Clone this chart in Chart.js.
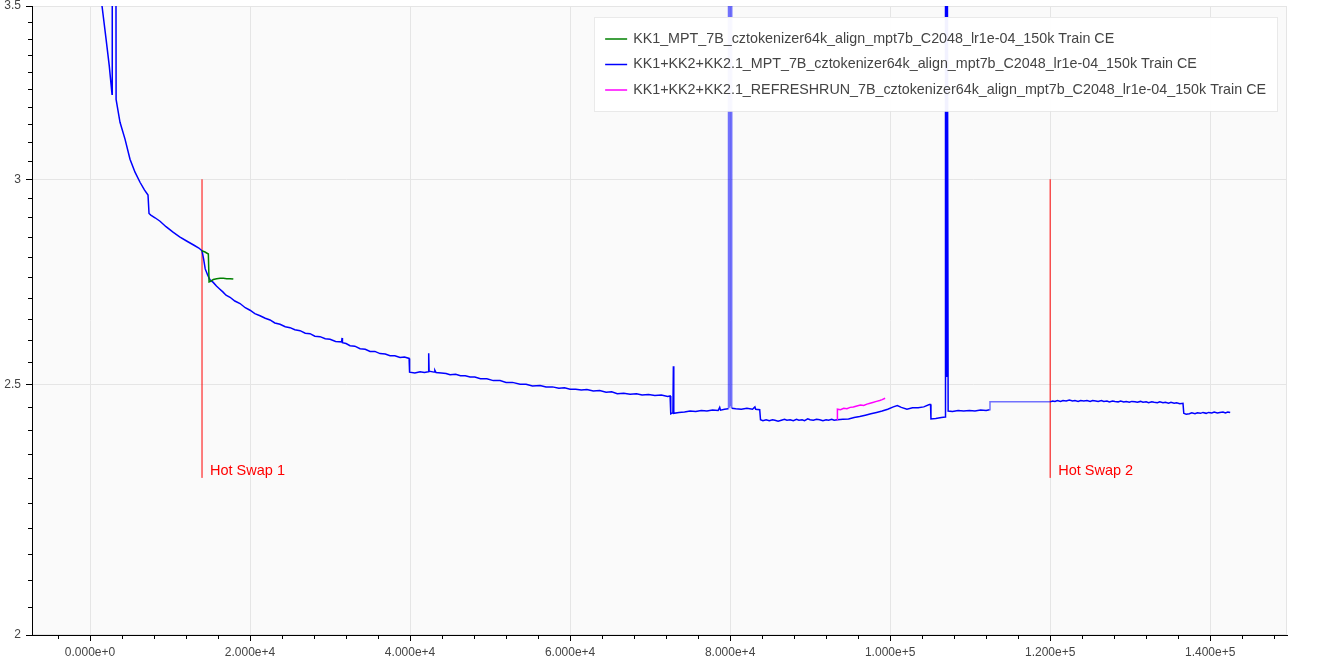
<!DOCTYPE html>
<html lang="en">
<head>
<meta charset="utf-8">
<title>Train CE – hot swap runs</title>
<script src="https://cdn.jsdelivr.net/npm/chart.js@4.4.1/dist/chart.umd.min.js"></script>
<style>
  html, body { margin: 0; padding: 0; background: #fff; }
  .chart-wrap { position: relative; width: 1320px; height: 660px; }
</style>
</head>
<body>
<div class="chart-wrap"><canvas id="lossChart"></canvas></div>
<script>
// ── Data (step, train CE) ─────────────────────────────────
const kk1Label     = "KK1_MPT_7B_cztokenizer64k_align_mpt7b_C2048_lr1e-04_150k Train CE";
const mptLabel     = "KK1+KK2+KK2.1_MPT_7B_cztokenizer64k_align_mpt7b_C2048_lr1e-04_150k Train CE";
const refreshLabel = "KK1+KK2+KK2.1_REFRESHRUN_7B_cztokenizer64k_align_mpt7b_C2048_lr1e-04_150k Train CE";

const kk1Train = [
  [13960, 2.815], [14375, 2.812], [14790, 2.807], [14880, 2.738], [15000, 2.739],
  [15410, 2.744], [15830, 2.746], [16250, 2.747], [16670, 2.747], [17090, 2.746],
  [17500, 2.746], [17910, 2.745]
];

const mptTrain = [
  [1000, 3.62], [1500, 3.50], [2000, 3.40], [2400, 3.32], [2750, 3.236],
  [2780, 4.2], [3220, 4.2], [3260, 3.221],
  [3750, 3.156], [4375, 3.109], [5000, 3.054], [5625, 3.019], [6250, 2.992], [6800, 2.972], [7250, 2.958],
  [7375, 2.910], [7600, 2.906], [8125, 2.899], [8750, 2.890], [9500, 2.876], [10375, 2.862],
  [11200, 2.850], [12125, 2.839], [13000, 2.829], [13600, 2.822], [14000, 2.815],
  [14200, 2.794], [14400, 2.770], [14700, 2.755], [15000, 2.743], [15400, 2.737], [15800, 2.728],
  [16200, 2.721], [16600, 2.714], [17000, 2.706], [17500, 2.701],
  [18100, 2.692], [18750, 2.686], [19400, 2.676], [20000, 2.670], [20600, 2.662], [21250, 2.657],
  [21900, 2.651], [22500, 2.647], [23100, 2.640], [23750, 2.637], [24400, 2.631], [25000, 2.629],
  [25600, 2.624], [26250, 2.622], [26900, 2.616], [27500, 2.615], [28100, 2.609], [28750, 2.608],
  [29400, 2.603], [30000, 2.602], [30700, 2.597], [31450, 2.596], [31500, 2.605], [31550, 2.594],
  [32000, 2.592], [32500, 2.587], [33100, 2.586], [33750, 2.580], [34400, 2.579], [35000, 2.574],
  [35600, 2.574], [36250, 2.569], [36900, 2.568], [37500, 2.564], [38100, 2.564], [38750, 2.560],
  [39300, 2.561], [39880, 2.558],
  [39940, 2.527], [40600, 2.525], [41250, 2.528], [41800, 2.526], [42280, 2.528], [42330, 2.570],
  [42380, 2.529], [43000, 2.527], [43100, 2.531], [43250, 2.526], [43900, 2.525], [44500, 2.524],
  [45000, 2.521], [45700, 2.522], [46300, 2.519], [46900, 2.519], [47500, 2.516], [48100, 2.516],
  [48800, 2.512], [49600, 2.512], [50400, 2.508], [51250, 2.508], [52000, 2.504], [52800, 2.504],
  [53750, 2.500], [54500, 2.500], [55300, 2.496], [56250, 2.497], [57000, 2.494], [57800, 2.494],
  [58600, 2.491], [59300, 2.492], [60000, 2.489], [60700, 2.489], [61400, 2.487], [62100, 2.488],
  [62900, 2.485], [63700, 2.486], [64500, 2.482], [65200, 2.483], [65900, 2.479], [66700, 2.480],
  [67500, 2.478], [68300, 2.479], [69000, 2.476], [69800, 2.477], [70600, 2.475], [71400, 2.476],
  [72200, 2.473], [72500, 2.474],
  [72580, 2.435], [72850, 2.437], [72910, 2.540], [72960, 2.436], [73600, 2.438], [74300, 2.439],
  [75000, 2.441], [75700, 2.440], [76400, 2.442], [77100, 2.441], [77800, 2.443], [78500, 2.442],
  [78700, 2.449], [78800, 2.443], [79300, 2.445], [79750, 2.446],
  [79800, 4.5], [79880, 2.450], [79960, 4.5], [80040, 2.452], [80120, 4.5], [80200, 2.447],
  [80700, 2.446], [81400, 2.445], [82100, 2.447], [82800, 2.445], [83100, 2.450], [83200, 2.445],
  [83700, 2.444],
  [83800, 2.422], [84100, 2.420], [84500, 2.422], [84900, 2.420], [85300, 2.422], [85600, 2.421],
  [86000, 2.419], [86400, 2.421], [86800, 2.423], [87100, 2.421], [87500, 2.422], [87900, 2.420],
  [88300, 2.423], [88600, 2.421], [89000, 2.422], [89300, 2.420], [89700, 2.424], [90000, 2.422],
  [90400, 2.421], [90800, 2.423], [91200, 2.422], [91600, 2.420], [92000, 2.422], [92300, 2.421],
  [92700, 2.423], [93000, 2.421], [93400, 2.422],
  [94100, 2.423], [94800, 2.424], [95500, 2.427], [96200, 2.429],
  [96900, 2.432], [97600, 2.435], [98300, 2.438], [99000, 2.441], [99700, 2.445], [100400, 2.450],
  [100900, 2.453], [101400, 2.449], [102100, 2.445], [102800, 2.448], [103500, 2.448], [104200, 2.450],
  [104900, 2.455], [105050, 2.455],
  [105100, 2.424], [105700, 2.425], [106400, 2.427], [106900, 2.428],
  [106920, 4.5], [107060, 2.518], [107100, 4.5], [107250, 2.441],
  [107800, 2.440], [108500, 2.442], [109200, 2.441], [109900, 2.442], [110600, 2.441], [111300, 2.443],
  [112000, 2.442], [112420, 2.444],
  [112480, 2.461], [120000, 2.461],
  [120300, 2.463], [120600, 2.462], [120900, 2.464], [121300, 2.462], [121600, 2.464], [122000, 2.463],
  [122400, 2.465], [122800, 2.463], [123100, 2.464], [123500, 2.462], [123800, 2.464], [124200, 2.463],
  [124600, 2.464], [125000, 2.462], [125300, 2.464], [125700, 2.463], [126000, 2.462], [126400, 2.464],
  [126700, 2.462], [127100, 2.463], [127400, 2.461], [127800, 2.463], [128100, 2.462], [128500, 2.461],
  [128800, 2.463], [129200, 2.461], [129500, 2.462], [129900, 2.460], [130200, 2.462], [130600, 2.461],
  [130900, 2.460], [131300, 2.462], [131600, 2.460], [132000, 2.461], [132300, 2.459], [132700, 2.461],
  [133000, 2.460], [133400, 2.459], [133700, 2.461], [134100, 2.459], [134400, 2.460], [134800, 2.458],
  [135100, 2.460], [135500, 2.458], [135800, 2.459], [136200, 2.457], [136600, 2.458],
  [136700, 2.436], [137000, 2.434], [137400, 2.435], [137700, 2.437], [138100, 2.435], [138400, 2.437],
  [138800, 2.436], [139100, 2.438], [139500, 2.436], [139800, 2.438], [140200, 2.437], [140500, 2.439],
  [140900, 2.437], [141200, 2.438], [141600, 2.439], [141900, 2.437], [142200, 2.439], [142500, 2.438]
];

const refreshTrain = [
  [93375, 2.422], [93410, 2.445], [93800, 2.444], [94200, 2.447], [94600, 2.446], [95000, 2.449],
  [95400, 2.450], [95840, 2.452], [96300, 2.454], [96700, 2.453], [97100, 2.456], [97500, 2.458],
  [97920, 2.460], [98300, 2.462], [98700, 2.464], [99000, 2.466], [99375, 2.469]
];

// Hot swap markers
const swapSteps  = [14000, 120000];
const swapSpan   = [2.3, 3.0];
const swapLabels = ["Hot Swap 1", "Hot Swap 2"];

// Axis ticks
const xMajorTicks = [0, 20000, 40000, 60000, 80000, 100000, 120000, 140000];
const xMinorStep  = 4000;
const xRange      = [-7250, 149600];
const yMajorTicks = [2, 2.5, 3, 3.5];
const yMinorStep  = 0.05;
const yRange      = [2, 3.5];

document.addEventListener("DOMContentLoaded", () => {

  const FONT = '"Liberation Sans", Arial, Helvetica, sans-serif';
  Chart.defaults.font.family = FONT;
  Chart.defaults.font.size = 12;
  Chart.defaults.color = "#444";

  const toPoints = rows => rows.map(([x, y]) => ({ x, y }));

  // ── Tick value lists ────────────────────────────────────
  const xTickValues = [];
  for (let v = Math.ceil(xRange[0] / xMinorStep) * xMinorStep; v <= xRange[1]; v += xMinorStep) xTickValues.push(v);
  const yTickValues = [];
  for (let i = Math.round(yRange[0] / yMinorStep); i <= Math.round(yRange[1] / yMinorStep); i++) {
    yTickValues.push(+(i * yMinorStep).toFixed(2));
  }
  const isMajorX = v => xMajorTicks.includes(v);
  const isMajorY = v => yMajorTicks.some(m => Math.abs(m - v) < 1e-9);

  // segments that render paler in the original (dense spike band, gap bridge)
  const paleRanges = [[79750, 80200], [112420, 120000]];
  const isPale = ctx => paleRanges.some(([a, b]) => ctx.p0.parsed.x >= a && ctx.p1.parsed.x <= b);

  // ── Plugins ─────────────────────────────────────────────
  const plotBackground = {
    id: "plotBackground",
    beforeDraw(chart) {
      const { ctx, chartArea: a } = chart;
      ctx.save();
      ctx.fillStyle = "#fafafa";
      ctx.fillRect(a.left, a.top, a.right - a.left, a.bottom - a.top);
      ctx.strokeStyle = "#e5e5e5";
      ctx.lineWidth = 1;
      ctx.strokeRect(Math.round(a.left) + 0.5, Math.round(a.top) + 0.5,
                     Math.round(a.right - a.left) - 1, Math.round(a.bottom - a.top) - 1);
      ctx.restore();
    }
  };

  // Bokeh-style outward ticks: major 6px, minor 4px
  const tickMarks = {
    id: "tickMarks",
    afterDraw(chart) {
      const { ctx, chartArea: a, scales: { x, y } } = chart;
      ctx.save();
      ctx.strokeStyle = "#000";
      ctx.lineWidth = 1;
      ctx.beginPath();
      xTickValues.forEach(v => {
        const px = Math.round(x.getPixelForValue(v)) + 0.5;
        ctx.moveTo(px, a.bottom);
        ctx.lineTo(px, a.bottom + (isMajorX(v) ? 6 : 4));
      });
      yTickValues.forEach(v => {
        const py = Math.round(y.getPixelForValue(v)) + 0.5;
        ctx.moveTo(a.left, py);
        ctx.lineTo(a.left - (isMajorY(v) ? 6 : 4), py);
      });
      ctx.stroke();
      ctx.restore();
    }
  };

  const swapText = {
    id: "swapText",
    afterDatasetsDraw(chart) {
      const { ctx, scales: { x, y } } = chart;
      ctx.save();
      ctx.fillStyle = "red";
      ctx.font = "14.5px " + FONT;
      ctx.textAlign = "left";
      ctx.textBaseline = "bottom";
      swapSteps.forEach((s, i) => {
        ctx.fillText(swapLabels[i], x.getPixelForValue(s) + 8, y.getPixelForValue(swapSpan[0]));
      });
      ctx.restore();
    }
  };

  // Legend box inside the plot, top right
  const insideLegend = {
    id: "insideLegend",
    afterDraw(chart) {
      const { ctx, chartArea: a } = chart;
      const items = chart.data.datasets.filter(d => d.inLegend);
      ctx.save();
      ctx.font = "14.3px " + FONT;
      const maxW = Math.max(...items.map(d => ctx.measureText(d.label).width));
      const w = 11 + 22 + 6 + maxW + 11;
      const h = 94;
      const right = a.right - 10;
      const left = right - w;
      const top = a.top + 11;
      ctx.fillStyle = "rgba(255,255,255,0.95)";
      ctx.fillRect(left, top, w, h);
      ctx.strokeStyle = "rgba(229,229,229,0.8)";
      ctx.lineWidth = 1;
      ctx.strokeRect(Math.round(left) + 0.5, Math.round(top) + 0.5, Math.round(w), h);
      items.forEach((d, i) => {
        const rowY = top + 22 + i * 25.5;
        ctx.strokeStyle = d.borderColor;
        ctx.lineWidth = 1.5;
        ctx.beginPath();
        ctx.moveTo(left + 11, rowY);
        ctx.lineTo(left + 33, rowY);
        ctx.stroke();
        ctx.fillStyle = "#444";
        ctx.textBaseline = "middle";
        ctx.fillText(d.label, left + 39, rowY);
      });
      ctx.restore();
    }
  };

  // ── Datasets ────────────────────────────────────────────
  const lineStyle = { pointRadius: 0, tension: 0, borderWidth: 1.5, fill: false };

  const swapSets = swapSteps.map((s, i) => ({
    label: swapLabels[i],
    data: [{ x: s, y: swapSpan[0] }, { x: s, y: swapSpan[1] }],
    borderColor: "red",
    borderWidth: 1,
    pointRadius: 0,
    order: 5
  }));

  const canvas = document.getElementById("lossChart");
  new Chart(canvas.getContext("2d"), {
    type: "line",
    data: {
      datasets: [
        { ...lineStyle, label: kk1Label,     data: toPoints(kk1Train),     borderColor: "#008000", inLegend: true, order: 1 },
        { ...lineStyle, label: mptLabel,     data: toPoints(mptTrain),     borderColor: "#0000ff", inLegend: true, order: 2,
          segment: { borderColor: c => isPale(c) ? "rgba(0,0,255,0.55)" : undefined } },
        { ...lineStyle, label: refreshLabel, data: toPoints(refreshTrain), borderColor: "#ff00ff", inLegend: true, order: 0 },
        ...swapSets
      ]
    },
    options: {
      responsive: true,
      maintainAspectRatio: false,
      animation: false,
      events: [],
      layout: { padding: { top: 6, right: 33, bottom: 0, left: 0 } },
      plugins: {
        legend:  { display: false },
        tooltip: { enabled: false }
      },
      scales: {
        x: {
          type: "linear",
          min: xRange[0],
          max: xRange[1],
          bounds: "data",
          afterFit: s => { s.height = 25; s.paddingLeft = 0; s.paddingRight = 0; },
          afterBuildTicks: s => { s.ticks = xTickValues.map(v => ({ value: v })); },
          border: { color: "#000", width: 1 },
          grid: {
            drawTicks: false,
            color: c => (c.tick && isMajorX(c.tick.value)) ? "#e5e5e5" : "rgba(0,0,0,0)"
          },
          ticks: {
            autoSkip: false,
            maxRotation: 0,
            padding: 10.5,
            color: "#444",
            font: { size: 12 },
            callback: v => isMajorX(v) ? v.toExponential(3) : ""
          }
        },
        y: {
          type: "logarithmic",
          min: yRange[0],
          max: yRange[1],
          bounds: "data",
          afterFit: s => { s.width = 32; s.paddingTop = 0; s.paddingBottom = 0; },
          afterBuildTicks: s => { s.ticks = yTickValues.map(v => ({ value: v })); },
          border: { color: "#000", width: 1 },
          grid: {
            drawTicks: false,
            color: c => (c.tick && isMajorY(c.tick.value)) ? "#e5e5e5" : "rgba(0,0,0,0)"
          },
          ticks: {
            autoSkip: false,
            padding: 11,
            color: "#444",
            font: { size: 12 },
            callback: v => isMajorY(v) ? String(v) : ""
          }
        }
      }
    },
    plugins: [plotBackground, tickMarks, swapText, insideLegend]
  });
});
</script>
</body>
</html>
